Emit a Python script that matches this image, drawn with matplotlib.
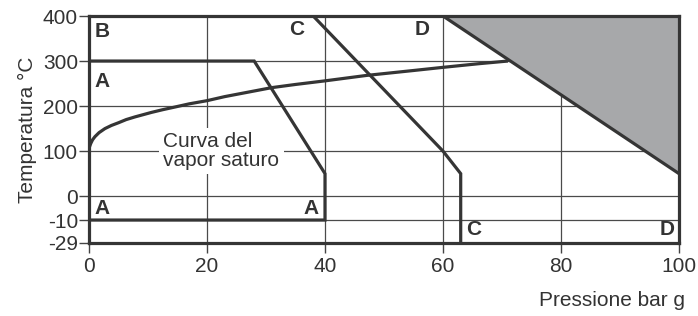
import numpy as np
import matplotlib
matplotlib.use("Agg")
import matplotlib.pyplot as plt

plt.rcParams['font.family'] = ['Liberation Sans', 'DejaVu Sans']

# ---- data ----
x_ticks = [0, 20, 40, 60, 80, 100]
y_ticks = [-29, -10, 0, 100, 200, 300, 400]
y_grid = [-10, 0, 100, 200, 300]
x_grid = [20, 40, 60, 80]

# non-linear temperature axis (value -> position)
y_break_values = [-29, -10, 0, 400]
y_break_pos = [-104, -53, 0, 400]

# curve A
a_x = [0, 28, 40, 40, 0]
a_y = [300, 300, 50, -10, -10]
# curve C
c_x = [38, 60, 63, 63]
c_y = [400, 100, 50, -29]
# curve D
d_x = [60, 100]
d_y = [400, 50]
# shaded region
shade_x = [60, 100, 100]
shade_y = [400, 400, 50]
# saturated vapour curve
sat_x = [0, 0.1, 0.3, 0.6, 1, 1.7, 2.7, 3.8, 5, 6.3, 7.8, 9.2, 10.6, 12.5,
         14.6, 17, 20, 23, 27, 31, 35, 40, 47, 55, 60, 66, 71]
sat_y = [105, 110, 117, 125, 132, 141, 150, 157, 163, 170, 176, 181, 186, 192,
         198, 205, 212, 221, 231, 241, 248, 256, 268, 279, 286, 294, 300]

letters = [
    ("B", 1.0, 365, "left"),
    ("A", 1.0, 255, "left"),
    ("A", 1.0, -5, "left"),
    ("A", 39.0, -5, "right"),
    ("C", 34.0, 369, "left"),
    ("D", 57.8, 369, "right"),
    ("C", 64.0, -18, "left"),
    ("D", 99.3, -18, "right"),
]

dark = "#353535"
grid_c = "#4a4a4a"
fill_c = "#a7a8aa"


def fwd(v):
    return np.interp(v, y_break_values, y_break_pos)


def inv(p):
    return np.interp(p, y_break_pos, y_break_values)


fig = plt.figure(figsize=(6.98, 3.16), dpi=100)
ax = fig.add_axes([89/698, 1-243/316, 590/698, 227/316])
ax.set_yscale('function', functions=(fwd, inv))
ax.set_xlim(0, 100)
ax.set_ylim(-29, 400)

for g in y_grid:
    ax.axhline(g, color=grid_c, lw=0.9, zorder=1)
for g in x_grid:
    ax.axvline(g, color=grid_c, lw=0.9, zorder=1)

ax.fill(shade_x, shade_y, color=fill_c, lw=0, zorder=2)

lw = 2.3
ax.plot(a_x, a_y, color=dark, lw=lw, zorder=4, solid_joinstyle='miter')
ax.plot(c_x, c_y, color=dark, lw=lw, zorder=4, solid_joinstyle='miter')
ax.plot(d_x, d_y, color=dark, lw=lw, zorder=4)
ax.plot(sat_x, sat_y, color=dark, lw=lw, zorder=4, solid_joinstyle='round',
        solid_capstyle='butt')

ax.text(12.6, 100, "Curva del\nvapor saturo", fontsize=15, color="#333333",
        ha='left', va='center', linespacing=1.0, zorder=3,
        bbox=dict(boxstyle='square,pad=0.2', fc='white', ec='none'))

for t, x, y, ha in letters:
    ax.text(x, y, t, fontsize=15, fontweight='bold', color="#333333",
            ha=ha, va='center', zorder=5)

for s in ax.spines.values():
    s.set_linewidth(lw)
    s.set_color(dark)
    s.set_zorder(6)

ax.set_xticks(x_ticks)
ax.set_yticks(y_ticks)
ax.set_yticklabels([str(v) for v in y_ticks])
ax.yaxis.set_minor_locator(matplotlib.ticker.NullLocator())
ax.tick_params(axis='both', labelsize=15, colors="#444444", labelcolor="#333333",
               length=7, width=1)
ax.tick_params(axis='y', pad=1)
ax.tick_params(axis='x', pad=3)

ax.set_ylabel("Temperatura °C", fontsize=15, color="#333333", labelpad=4)
fig.text(685/698, 1-300/316, "Pressione bar g", fontsize=15, color="#333333",
         ha='right', va='center')

fig.savefig("out.png", dpi=100)
